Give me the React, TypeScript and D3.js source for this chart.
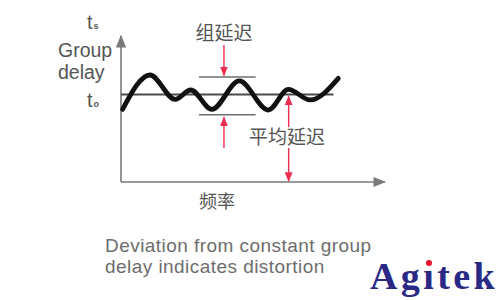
import React from "react";
import * as d3 from "d3";

// Group delay ripple across frequency (arbitrary units)
const frequency = [0.6, 11.0, 20.5, 26.4, 34.4, 44.8, 55.8, 63.4, 71.6, 82.3];
const groupDelay = [49.8, 73.3, 56.6, 63.0, 49.8, 69.2, 49.3, 63.5, 56.2, 71.0];

// Mean delay level and the ripple band limits
const meanDelay = 60;
const rippleHigh = 72;
const rippleLow = 46;
const rippleSpan = [29.5, 51];
const rippleMarkerAt = 39;
const meanMarkerAt = 63.5;
const meanLineEnd = 80.5;

// Y-axis tick labels (t with a subscript)
const yTickLabels = ["t", "t"];
const yTickSubs = ["s", "o"];
const yTickValues = [111.5, 58];

const axisTitleLines = ["Group", "delay"];
const xAxisTitle = "频率";
const rippleLabel = "组延迟";
const meanLabel = "平均延迟";
const captionLines = ["Deviation from constant group", "delay indicates distortion"];

const W = 500;
const H = 300;
const x = d3.scaleLinear().domain([0, 100]).range([121, 385]);
const y = d3.scaleLinear().domain([0, 100]).range([182, 36]);

const RED = "#ec2d4f";
const AXIS = "#7a7a7a";
const TEXT = "#555";

export default function App() {
  const line = d3
    .line<number>()
    .x((_, i) => x(frequency[i]))
    .y((d) => y(d))
    .curve(d3.curveMonotoneX);

  const x0 = x(0);
  const y0 = y(0);

  return (
    <svg
      width={W}
      height={H}
      style={{ position: "absolute", left: 0, top: 0, background: "#fff" }}
      fontFamily="'Liberation Sans', Arial, sans-serif"
    >
      <defs>
        <marker id="axisHead" viewBox="0 0 10 10" refX="9" refY="5" markerWidth="8" markerHeight="8" orient="auto">
          <path d="M0,1 L10,5 L0,9 Z" fill={AXIS} />
        </marker>
        <marker id="redHead" viewBox="0 0 10 10" refX="9" refY="5" markerWidth="7" markerHeight="7" orient="auto-start-reverse">
          <path d="M0,1 L10,5 L0,9 Z" fill={RED} />
        </marker>
      </defs>

      {/* axes */}
      <line x1={x0} y1={y0} x2={x0} y2={y(100)} stroke={AXIS} strokeWidth={1.6} markerEnd="url(#axisHead)" />
      <line x1={x0} y1={y0} x2={x(100)} y2={y0} stroke={AXIS} strokeWidth={1.6} markerEnd="url(#axisHead)" />

      {/* y-axis title */}
      {axisTitleLines.map((t, i) => (
        <text key={t} x={58} y={57 + i * 22} fontSize={19.5} fill={TEXT}>
          {t}
        </text>
      ))}

      {/* y tick labels */}
      {yTickLabels.map((t, i) => (
        <text key={i} x={87} y={y(yTickValues[i]) + 10} fontSize={20} fill={TEXT}>
          {t}
          <tspan fontSize={9} fontWeight="bold" dx={1}>{yTickSubs[i]}</tspan>
        </text>
      ))}

      {/* ripple band limits */}
      {[rippleHigh, rippleLow].map((v) => (
        <line key={v} x1={x(rippleSpan[0])} x2={x(rippleSpan[1])} y1={y(v)} y2={y(v)} stroke="#6e6e6e" strokeWidth={1.5} />
      ))}

      {/* mean delay line */}
      <line x1={x0} x2={x(meanLineEnd)} y1={y(meanDelay)} y2={y(meanDelay)} stroke="#4a4a4a" strokeWidth={2} />

      {/* group delay curve */}
      <path d={line(groupDelay) ?? ""} fill="none" stroke="#111" strokeWidth={4.8} strokeLinecap="round" />

      {/* ripple markers */}
      <line x1={x(rippleMarkerAt)} x2={x(rippleMarkerAt)} y1={45} y2={y(rippleHigh) - 1.5} stroke={RED} strokeWidth={1.4} markerEnd="url(#redHead)" />
      <line x1={x(rippleMarkerAt)} x2={x(rippleMarkerAt)} y1={148} y2={y(rippleLow) + 2.5} stroke={RED} strokeWidth={1.4} markerEnd="url(#redHead)" />
      <text x={x(rippleMarkerAt)} y={40} fontSize={19} fill={TEXT} textAnchor="middle" fontFamily="'Noto Sans CJK SC', sans-serif">
        {rippleLabel}
      </text>

      {/* mean delay marker */}
      <line x1={x(meanMarkerAt)} x2={x(meanMarkerAt)} y1={y(meanDelay) + 2} y2={y0 - 1} stroke={RED} strokeWidth={1.4} markerStart="url(#redHead)" markerEnd="url(#redHead)" />
      <rect x={245} y={127} width={84} height={21} fill="#fff" />
      <text x={287} y={144} fontSize={19} fill={TEXT} textAnchor="middle" fontFamily="'Noto Sans CJK SC', sans-serif">
        {meanLabel}
      </text>

      {/* x-axis title */}
      <text x={217} y={208} fontSize={18} fill={TEXT} textAnchor="middle" fontFamily="'Noto Sans CJK SC', sans-serif">
        {xAxisTitle}
      </text>

      {/* caption */}
      {captionLines.map((t, i) => (
        <text key={t} x={105} y={252 + i * 21} fontSize={19} letterSpacing={0.45} fill="#6d6d6d">
          {t}
        </text>
      ))}

      {/* logo */}
      <text x={370} y={289} fontSize={38} fontWeight="bold" fill="#2a2a86" letterSpacing={3.4} fontFamily="'Liberation Serif', 'Times New Roman', serif">
        Agıtek
      </text>
      <circle cx={429} cy={263} r={3} fill="#e8102a" />
    </svg>
  );
}
